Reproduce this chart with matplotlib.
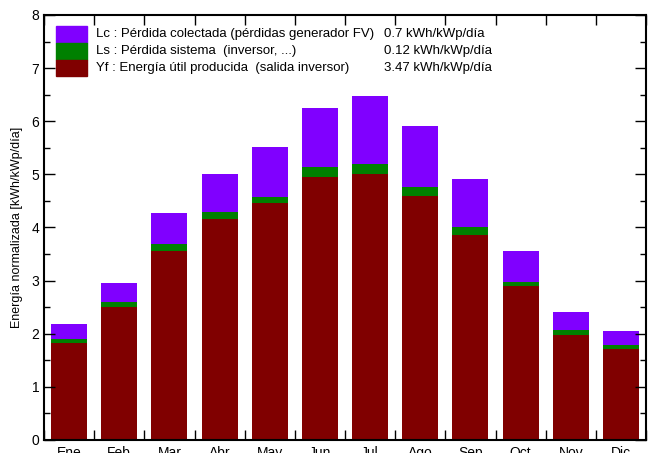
import numpy as np
import matplotlib.pyplot as plt
from matplotlib.patches import Rectangle
from matplotlib.ticker import MultipleLocator

plt.rcParams['font.family'] = ['Liberation Sans', 'DejaVu Sans']

months = ["Ene", "Feb", "Mar", "Abr", "May", "Jun", "Jul", "Ago", "Sep", "Oct", "Nov", "Dic"]
# stacked heights (kWh/kWp/day)
yf = [1.82, 2.50, 3.56, 4.16, 4.46, 4.95, 5.01, 4.59, 3.86, 2.90, 1.98, 1.71]
ls = [0.08, 0.10, 0.13, 0.13, 0.12, 0.19, 0.19, 0.17, 0.15, 0.08, 0.09, 0.08]
lc = [0.28, 0.36, 0.58, 0.72, 0.94, 1.11, 1.28, 1.15, 0.91, 0.58, 0.34, 0.26]

leg_labels = ["Lc : Pérdida colectada (pérdidas generador FV)",
              "Ls : Pérdida sistema  (inversor, ...)",
              "Yf : Energía útil producida  (salida inversor)"]
leg_values = ["0.7 kWh/kWp/día", "0.12 kWh/kWp/día", "3.47 kWh/kWp/día"]

c_lc = "#8000ff"
c_ls = "#008000"
c_yf = "#800000"

fig = plt.figure(figsize=(6.49, 4.53), dpi=100)
ax = fig.add_axes([0.0678, 0.0287, 0.9276, 0.9383])

x = np.arange(12) + 0.5
yf = np.array(yf)
ls = np.array(ls)
lc = np.array(lc)
w = 0.72
ax.bar(x, yf, w, color=c_yf)
ax.bar(x, ls, w, bottom=yf, color=c_ls)
ax.bar(x, lc, w, bottom=yf + ls, color=c_lc)

ax.set_xlim(0, 12)
ax.set_ylim(0, 8)
ax.set_xticks(np.arange(13))
ax.set_xticklabels([])
ax.set_xticks(x, minor=True)
ax.set_xticklabels(months, minor=True, fontsize=10)
ax.tick_params(axis='x', which='major', direction='in', top=True, length=7, width=1)
ax.tick_params(axis='x', which='minor', length=0, pad=4)
ax.yaxis.set_major_locator(MultipleLocator(1))
ax.yaxis.set_minor_locator(MultipleLocator(0.5))
ax.tick_params(axis='y', which='major', direction='in', right=True, length=8, width=1, labelsize=10)
ax.tick_params(axis='y', which='minor', direction='in', right=True, length=4, width=1)
for s in ax.spines.values():
    s.set_linewidth(1.5)
ax.set_ylabel("Energía normalizada [kWh/kWp/día]", fontsize=9, labelpad=6)

# legend block
cols = [c_lc, c_ls, c_yf]
for i in range(3):
    y0 = 0.974 - (i + 1) * 0.0395
    ax.add_patch(Rectangle((0.02, y0), 0.052, 0.0395, transform=ax.transAxes,
                           color=cols[i], clip_on=False))
    ax.text(0.086, y0 + 0.0197, leg_labels[i], transform=ax.transAxes,
            fontsize=9.5, va='center')
    ax.text(0.565, y0 + 0.0197, leg_values[i], transform=ax.transAxes,
            fontsize=9.5, va='center')

fig.savefig("out.png", dpi=100)
